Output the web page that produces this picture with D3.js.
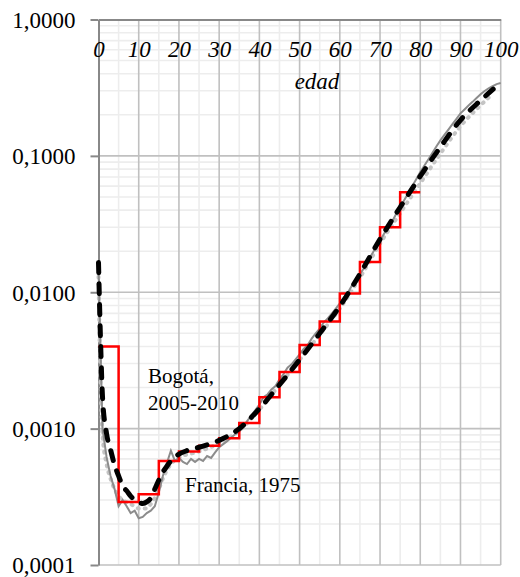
<!DOCTYPE html>
<html><head><meta charset="utf-8">
<script src="https://cdn.jsdelivr.net/npm/d3@7"></script>
<style>body{margin:0;background:#fff}svg{display:block}</style>
</head><body>
<script>
// ---- data ----
const ages = d3.range(0, 101);
const franciaValues = [
 0.0155, 0.0010, 0.00062, 0.00045, 0.00036, 0.00027, 0.00030, 0.00027, 0.00024, 0.00025,
 0.00022, 0.000225, 0.00024, 0.00025, 0.00027, 0.00034, 0.00045, 0.00056, 0.00069, 0.00058,
 0.00061, 0.00057, 0.00055, 0.00060, 0.00057, 0.00060, 0.00058, 0.00063, 0.00061, 0.00067,
 0.00073, 0.00077, 0.00081, 0.00086, 0.00091, 0.00095, 0.00104, 0.00114, 0.00125, 0.00137,
 0.0015, 0.0017, 0.00178, 0.00194, 0.00205, 0.0023, 0.00251, 0.0028, 0.00296, 0.00322,
 0.00351, 0.00384, 0.0041, 0.00457, 0.00499, 0.00542, 0.0060, 0.00643, 0.00698, 0.0076,
 0.00828, 0.00914, 0.0099, 0.0112, 0.0123, 0.0136, 0.0150, 0.0171, 0.0191, 0.0214,
 0.0239, 0.0268, 0.030, 0.0330, 0.0375, 0.042, 0.0473, 0.0532, 0.060, 0.0675,
 0.076, 0.0847, 0.0942, 0.105, 0.117, 0.130, 0.1426, 0.156, 0.171, 0.187,
 0.205, 0.219, 0.234, 0.249, 0.266, 0.283, 0.299, 0.313, 0.325, 0.336,
 0.342
];
const bogotaAges = [0, 5, 10, 15, 20, 25, 30, 35, 40, 45, 50, 55, 60, 65, 70, 75, 80];
const bogotaValues = [0.0040, 0.00029, 0.00033, 0.00058, 0.00068, 0.00075, 0.00085, 0.00110,
 0.0017, 0.0026, 0.0041, 0.0061, 0.0098, 0.0167, 0.030, 0.054, 0.054];
const modelAges = [0, 0.5, 1, 2, 3, 4, 5, 6, 7, 8, 9, 10, 11, 12, 13, 14, 15, 16, 17, 18, 19, 20, 22, 25,
 30, 35, 40, 45, 50, 55, 60, 65, 70, 75, 80, 85, 90, 95, 99];
const modelValues = [0.0165, 0.0045, 0.0017, 0.00092, 0.00070, 0.00054, 0.00045, 0.00038, 0.00035,
 0.00032, 0.00030, 0.000288, 0.000283, 0.00029, 0.00031, 0.00036, 0.00042, 0.00048, 0.00053, 0.00058,
 0.00062, 0.00065, 0.00069, 0.00073, 0.00082, 0.00100, 0.00140, 0.0021, 0.0032, 0.0050, 0.0079,
 0.0136, 0.0245, 0.042, 0.071, 0.116, 0.183, 0.255, 0.325];
const dottedAges = [0, 0.5, 1, 2, 3, 4, 5, 6, 8, 10, 12, 13, 14, 15, 16, 18, 20, 25, 30, 35, 40, 45,
 50, 55, 60, 65, 70, 75, 80, 85, 90, 95, 98];
const dottedValues = [0.013, 0.0022, 0.0009, 0.00055, 0.00043, 0.00036, 0.00032, 0.00030, 0.00028,
 0.00026, 0.00026, 0.00028, 0.00031, 0.00036, 0.00043, 0.00055, 0.00061, 0.00068, 0.00078, 0.00097,
 0.00138, 0.0021, 0.0032, 0.0049, 0.0076, 0.0128, 0.0228, 0.038, 0.063, 0.104, 0.165, 0.235, 0.285];
const xTicks = [0, 10, 20, 30, 40, 50, 60, 70, 80, 90, 100];
const xMinor = [5, 15, 25, 35, 45, 55, 65, 75, 85, 95];
const yTicks = [1, 0.1, 0.01, 0.001, 0.0001];
const yTickLabels = ["1,0000", "0,1000", "0,0100", "0,0010", "0,0001"];
const yMinor = [];
[0.0001, 0.001, 0.01, 0.1].forEach(d => { for (let k = 2; k <= 9; k++) yMinor.push(d * k); });

// ---- chart ----
const W = 520, H = 577;
const svg = d3.select("body").append("svg").attr("width", W).attr("height", H);
const x = d3.scaleLinear().domain([0, 100]).range([98.5, 500.7]);
const y = d3.scaleLog().domain([0.0001, 1]).range([565, 19.5]);
const serif = "'Liberation Serif', 'Times New Roman', serif";

// grid
const g = svg.append("g");
g.selectAll(".vmin").data(xMinor).join("line")
  .attr("x1", d => x(d)).attr("x2", d => x(d)).attr("y1", y(1)).attr("y2", y(0.0001))
  .attr("stroke", "#ededed").attr("stroke-width", 1.6);
g.selectAll(".hmin").data(yMinor).join("line")
  .attr("x1", x(0)).attr("x2", x(100)).attr("y1", d => y(d)).attr("y2", d => y(d))
  .attr("stroke", "#ededed").attr("stroke-width", 1.6);
g.selectAll(".vmaj").data(xTicks.filter(d => d > 0)).join("line")
  .attr("x1", d => x(d)).attr("x2", d => x(d)).attr("y1", y(1)).attr("y2", y(0.0001))
  .attr("stroke", "#c0c0c0").attr("stroke-width", 1.6);
g.selectAll(".hmaj").data(yTicks.filter(d => d < 1)).join("line")
  .attr("x1", x(0)).attr("x2", x(100)).attr("y1", d => y(d)).attr("y2", d => y(d))
  .attr("stroke", "#c0c0c0").attr("stroke-width", 1.6);

// axes
const yAxis = d3.axisLeft(y).tickValues(yTicks).tickSize(8).tickSizeOuter(0).tickPadding(15)
  .tickFormat((d, i) => yTickLabels[i]);
const ya = svg.append("g").attr("transform", `translate(${x(0)},0)`).call(yAxis);
ya.select(".domain").attr("stroke", "#888").attr("stroke-width", 2);
ya.selectAll(".tick line").attr("stroke", "#888").attr("stroke-width", 2);
ya.selectAll(".tick text").attr("font-family", serif).attr("font-size", 23).attr("fill", "#000")
  .attr("dy", "0.34em");

const xAxis = d3.axisBottom(x).tickValues(xTicks).tickSize(0).tickSizeOuter(0).tickPadding(0);
const xa = svg.append("g").attr("transform", `translate(0,${y(1)})`).call(xAxis);
xa.select(".domain").attr("stroke", "#888").attr("stroke-width", 2);
xa.selectAll(".tick text").attr("font-family", serif).attr("font-size", 23).attr("fill", "#000")
  .attr("font-style", "italic").attr("y", 37).attr("dy", null);

svg.append("text").attr("x", 317).attr("y", 89).attr("text-anchor", "middle")
  .attr("font-family", serif).attr("font-size", 23).attr("font-style", "italic").text("edad");

// series
const line = (curve) => d3.line().x(d => x(d[0])).y(d => y(d[1])).curve(curve);
svg.append("path").datum(dottedAges.map((a, i) => [a, dottedValues[i]]))
  .attr("d", line(d3.curveMonotoneX)).attr("fill", "none").attr("stroke", "#c4c4c4")
  .attr("stroke-width", 4).attr("stroke-linecap", "round").attr("stroke-dasharray", "1,6");
svg.append("path").datum(ages.map((a, i) => [a, franciaValues[i]]))
  .attr("d", line(d3.curveLinear)).attr("fill", "none").attr("stroke", "#8c8c8c")
  .attr("stroke-width", 2);
svg.append("path").datum(bogotaAges.map((a, i) => [a, bogotaValues[i]]))
  .attr("d", line(d3.curveStepAfter)).attr("fill", "none").attr("stroke", "#ff0000")
  .attr("stroke-width", 2.5);
svg.append("path").datum(modelAges.map((a, i) => [a, modelValues[i]]))
  .attr("d", line(d3.curveMonotoneX)).attr("fill", "none").attr("stroke", "#000")
  .attr("stroke-width", 5).attr("stroke-linecap", "round").attr("stroke-dasharray", "10,11");

// annotations
const ann = svg.append("g").attr("font-family", serif).attr("font-size", 21).attr("fill", "#000");
ann.append("text").attr("x", 148).attr("y", 383).text("Bogotá,");
ann.append("text").attr("x", 148).attr("y", 410).text("2005-2010");
ann.append("text").attr("x", 185).attr("y", 492).text("Francia, 1975");
</script>
</body></html>
